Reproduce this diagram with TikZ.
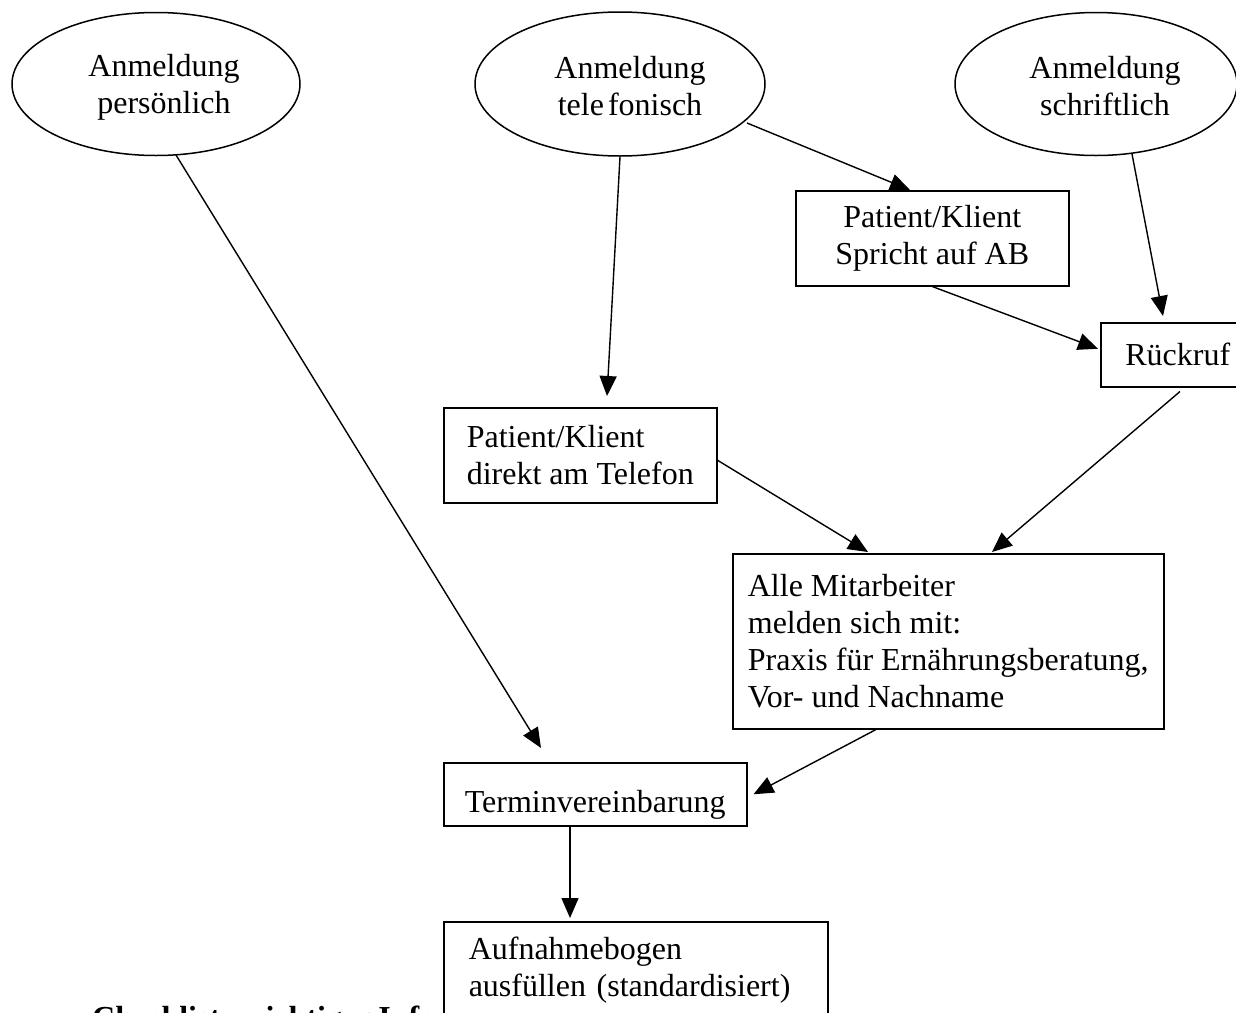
\documentclass[tikz,border=0pt]{standalone}
\usepackage{fontspec}
\setmainfont{Liberation Serif}
\usetikzlibrary{shapes.geometric,arrows.meta,calc}
\begin{document}
\begin{tikzpicture}[x=1pt,y=-1pt,
  txt/.style={font=\fontsize{32}{37}\selectfont},
  oval/.style={draw,line width=1.5pt,ellipse,inner sep=0pt},
  ovaltext/.style={txt,align=center,inner sep=0pt},
  boxc/.style={txt,draw,fill=white,line width=1.5pt,rectangle,anchor=north west,inner sep=6pt,align=center},
  boxl/.style={boxc,align=left},
  arr/.style={line width=1.4pt,-{Triangle[length=20pt,width=17pt]}}]
\clip (0,0) rectangle (1236,1012);
\fill[white] (0,0) rectangle (1236,1012);
% ellipses
\node[oval,minimum width=288pt,minimum height=143pt] (ep) at (156,84) {};
\node[ovaltext] (ept) at ($(ep.center)+(8,3)$) {Anmeldung\\persönlich};
\node[oval,minimum width=290pt,minimum height=144pt] (et) at (620,84) {};
\node[ovaltext] (ett) at ($(et.center)+(10,2)$) {Anmeldung\\tele\hspace{4pt}fonisch};
\node[oval,minimum width=282pt,minimum height=143pt] (es) at (1096,84) {};
\node[ovaltext] (est) at ($(es.center)+(9,2)$) {Anmeldung\\schriftlich};
% boxes
\node[boxc,minimum width=273pt,minimum height=95pt] (ab) at (795,190) {Patient/Klient\\Spricht auf AB};
\node[boxc,minimum width=154pt,minimum height=64pt] (rr) at (1100,322) {Rückruf};
\node[boxl,minimum width=273pt,minimum height=95pt] (dt) at (443,407) {Patient/Klient\\direkt am Telefon};
\node[boxl,minimum width=431pt,minimum height=175pt] (am) at (732,553) {Alle Mitarbeiter\\melden sich mit:\\Praxis für Ernährungsberatung,\\Vor- und Nachname};
\node[boxl,minimum width=303pt,minimum height=63pt,text height=44pt,text depth=7pt] (tv) at (443,762) {Terminvereinbarung};
\node[txt,anchor=base west,inner sep=0pt,font=\fontsize{32}{37}\selectfont\bfseries] (cl) at (92,1028) {Checkliste wichtiger Infos};
\node[boxl,inner xsep=25pt,inner ysep=15pt,text width=334pt] (af) at (443,921) {Aufnahmebogen\\ausfüllen (standardisiert)};
% connectors
\draw[arr] ($(ep.center)+(20,71)$) -- ($(tv.north west)+(98,-14)$);
\draw[arr] (et.south) -- ($(dt.north west)+(164,-11)$);
\draw[arr] ($(et.center)+(127,39)$) -- ($(ab.north west)+(115,0)$);
\draw[arr] ($(es.center)+(36,70)$) -- ($(rr.north west)+(63,-6)$);
\draw[arr] (ab.south) -- ($(rr.west)+(-2,-6)$);
\draw[arr] ($(rr.south west)+(80,4)$) -- ($(am.north west)+(260,-1)$);
\draw[arr] ($(dt.east)+(0,5)$) -- ($(am.north west)+(136,-1)$);
\draw[arr] ($(am.south west)+(144,0)$) -- ($(tv.east)+(6,0)$);
\draw[arr] ($(tv.south west)+(127,0)$) -- ($(af.north west)+(127,-3)$);
\end{tikzpicture}
\end{document}
